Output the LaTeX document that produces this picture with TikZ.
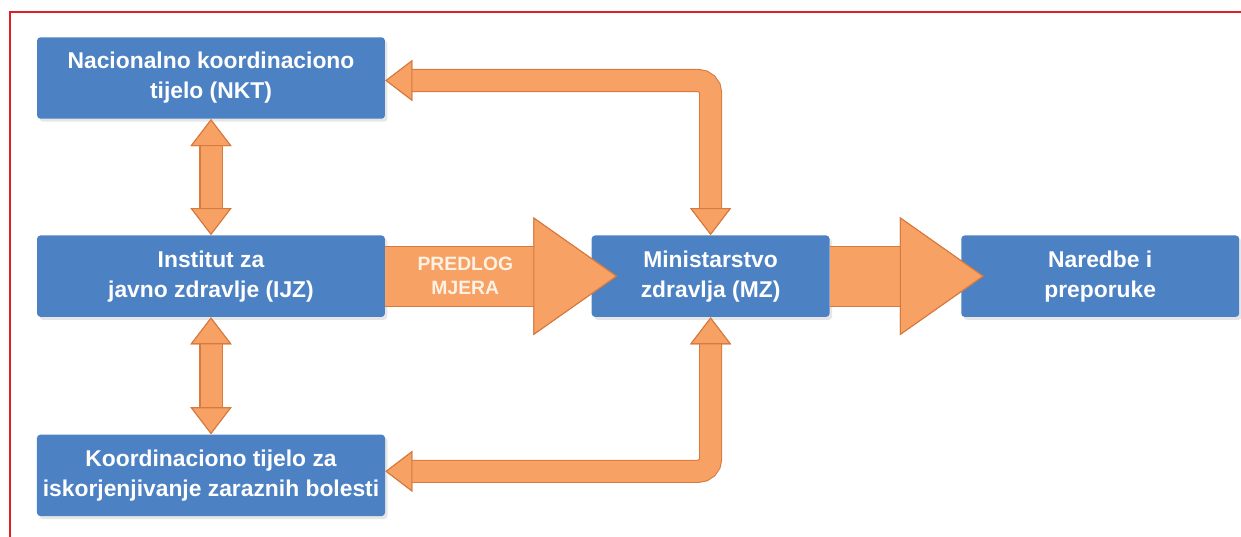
\documentclass[tikz,border=0pt]{standalone}
\usepackage{fontspec}
\setmainfont{Liberation Sans}
\usetikzlibrary{arrows.meta, positioning, shadows}

\definecolor{boxblue}{RGB}{76,129,196}
\definecolor{arrfill}{RGB}{247,161,100}
\definecolor{arredge}{RGB}{214,122,62}
\definecolor{framered}{RGB}{222,32,38}

\begin{document}
\begin{tikzpicture}[
        x=0.02cm, y=-0.02cm,
        block/.style={
          rectangle,
          fill=boxblue,
          rounded corners=2pt,
          text=white,
          font=\bfseries\fontsize{13}{17}\selectfont,
          align=center,
          minimum height=1.63cm,
          drop shadow={opacity=0.2, shadow xshift=0.05cm, shadow yshift=-0.06cm}
        },
        smallhead/.tip={Triangle[width=0.82cm, length=0.54cm, line width=0.6pt, color=arredge, fill=arrfill]},
        bighead/.tip={Triangle[width=2.36cm, length=1.68cm, line width=0.6pt, color=arredge, fill=arrfill]},
        thinarrow/.style={draw=arrfill, line width=0.42cm,
          preaction={draw=arredge, line width=0.42cm+1.2pt}},
        thickarrow/.style={draw=arrfill, line width=1.18cm,
          preaction={draw=arredge, line width=1.18cm+1.2pt}}
    ]
    \useasboundingbox (0,0) rectangle (1241,537);

    % Frame
    \draw[framered, line width=0.9pt] (10,537) -- (10,12) -- (1241,12);

    % Define the nodes
    \node[block, minimum width=6.96cm] (nkt) at (211,78) {Nacionalno koordinaciono\\tijelo (NKT)};
    \node[block, minimum width=6.96cm, below=2.32cm of nkt] (ijz) {Institut za\\javno zdravlje (IJZ)};
    \node[block, minimum width=6.96cm, below=2.34cm of ijz] (koord) {Koordinaciono tijelo za\\iskorjenjivanje zaraznih bolesti};
    \node[block, minimum width=4.76cm, right=4.12cm of ijz] (mz) {Ministarstvo\\zdravlja (MZ)};
    \node[block, minimum width=5.56cm, right=2.62cm of mz] (nar) {Naredbe i\\preporuke};

    % Connect the nodes
    \draw[thinarrow, smallhead-smallhead] (nkt) -- (ijz);
    \draw[thinarrow, smallhead-smallhead] (ijz) -- (koord);
    \draw[thinarrow, smallhead-smallhead, rounded corners=0.25cm] ([yshift=-0.05cm]nkt.east) -| (mz.north);
    \draw[thinarrow, smallhead-smallhead, rounded corners=0.25cm] ([yshift=0.08cm]koord.east) -| (mz.south);
    \draw[thickarrow, -bighead] (ijz) -- ([xshift=0.52cm]mz.west);
    \draw[thickarrow, -bighead] (mz) -- ([xshift=0.46cm]nar.west);

    % Label on the big arrow
    \node[text={rgb,255:red,253;green,241;blue,228}, font=\bfseries\fontsize{11}{13.6}\selectfont, align=center]
      (predlog) at ([xshift=1.6cm]ijz.east) {PREDLOG\\MJERA};

    \end{tikzpicture}
\end{document}
